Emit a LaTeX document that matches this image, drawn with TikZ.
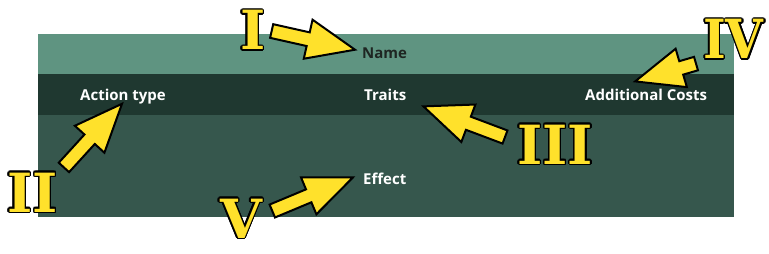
\documentclass[tikz,border=0pt]{standalone}
\usepackage{fontspec}
\setmainfont{Open Sans}
\newfontfamily\numfont{DejaVu Serif}
\usepackage[copies]{contour}
\contourlength{1.4pt}
\usetikzlibrary{calc}

\definecolor{nameband}{HTML}{5F9481}
\definecolor{traitband}{HTML}{1F3830}
\definecolor{bodyband}{HTML}{36574D}
\definecolor{callyellow}{HTML}{FFE12B}
\definecolor{namegray}{HTML}{1E2622}

% fat callout arrow from tail #1 to tip #2
\newcommand\calloutarrow[2]{%
  \coordinate (tailpt) at #1;
  \coordinate (tippt) at #2;
  \coordinate (headpt) at ($(tippt)!48pt!(tailpt)$);
  \filldraw[callout] ($(tailpt)!7pt!90:(tippt)$) -- ($(headpt)!7pt!90:(tippt)$)
    -- ($(headpt)!20pt!90:(tippt)$) -- (tippt) -- ($(headpt)!20pt!-90:(tippt)$)
    -- ($(headpt)!7pt!-90:(tippt)$) -- ($(tailpt)!7pt!-90:(tippt)$) -- cycle;}

\begin{document}
\begin{tikzpicture}[
    x=1pt, y=-1pt,
    lbl/.style={anchor=base west, inner sep=0pt, text=white,
                font=\fontsize{15}{18}\selectfont\bfseries},
    numeral/.style={anchor=base west, inner sep=0pt, text=callyellow,
                    font=\numfont\bfseries\fontsize{54}{60}\selectfont},
    callout/.style={fill=callyellow, draw=black, line width=2pt},
]
\useasboundingbox (0,0) rectangle (769,254);

% ---- Card bands ---------------------------------------------------
\fill[nameband]  (38,34)  rectangle (734,74);
\fill[traitband] (38,74)  rectangle (734,115);
\fill[bodyband]  (38,115) rectangle (734,217);

% ---- Field labels -------------------------------------------------
\node[lbl, text=namegray] (name) at (362,59) {Name};
\node[lbl] (action)   at (80,101)  {Action type};
\node[lbl] (traits)   at (364,101) {Traits};
\node[lbl] (addcosts) at (585,101) {Additional Costs};
\node[lbl] (effect)   at (363,184) {Effect};

% ---- Numerals -----------------------------------------------------
\node[numeral] (numI)   at (240,50)  {\contour{black}{I}};
\node[numeral] (numII)  at (7,212)   {\contour{black}{II}};
\node[numeral] (numIII) at (517,164) {\contour{black}{III}};
\node[numeral, xscale=0.9, transform shape] (numIV) at (703,59) {\contour{black}{IV}};
\node[numeral] (numV)   at (220,238) {\contour{black}{V}};

% ---- Callout arrows -----------------------------------------------
\calloutarrow{([xshift=6pt]numI.east)}{([shift={(-7,-4)}]name.west)}
\calloutarrow{([shift={(6,-5)}]numII.north east)}{([shift={(-1,-1)}]action.south)}
\calloutarrow{([shift={(-12,-8)}]numIII.west)}{([shift={(17,11)}]traits.east)}
\calloutarrow{([shift={(-7,3)}]numIV.south west)}{([shift={(-11,-8)}]addcosts.north)}
\calloutarrow{([shift={(10,-8)}]numV.east)}{([shift={(-10,-1)}]effect.west)}

\end{tikzpicture}
\end{document}
